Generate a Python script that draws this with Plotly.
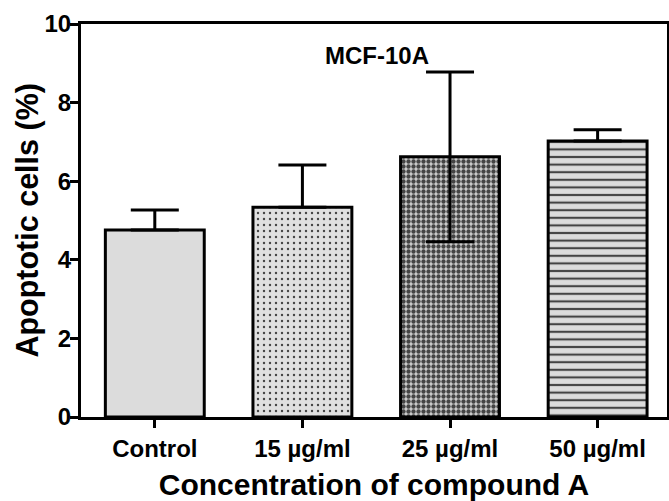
import plotly.graph_objects as go

categories = ["Control", "15 µg/ml", "25 µg/ml", "50 µg/ml"]
values = [4.76, 5.34, 6.62, 7.02]
err_plus = [0.51, 1.07, 2.16, 0.29]
err_minus = [0.0, 0.0, 2.16, 0.0]
title_text = "MCF-10A"
x_title = "Concentration of compound A"
y_title = "Apoptotic cells (%)"
y_ticks = [0, 2, 4, 6, 8, 10]

bg_colors = ["#dcdcdc", "#e0e0e0", "#d0d0d0", "#dcdcdc"]
fg_colors = ["#dcdcdc", "#555555", "#000000", "#444444"]
shapes = ["", ".", ".", "-"]
sizes = [8, 6, 5, 7.6]
solid = [0.2, 0.12, 0.6, 0.28]

FONT = "Liberation Sans, Arial, Helvetica, sans-serif"

fig = go.Figure()
fig.add_trace(go.Bar(
    x=categories, y=values, width=0.67,
    marker=dict(
        color=bg_colors,
        line=dict(color="black", width=3),
        pattern=dict(shape=shapes, fgcolor=fg_colors, fgopacity=1,
                     size=sizes, solidity=solid, fillmode="overlay"),
    ),
    error_y=dict(type="data", symmetric=False, array=err_plus, arrayminus=err_minus,
                 color="black", thickness=3, width=24),
    showlegend=False,
))

fig.update_layout(
    width=669, height=501,
    margin=dict(l=81, r=2, t=24, b=84),
    plot_bgcolor="white", paper_bgcolor="white",
    font=dict(family=FONT, color="black", size=24),
)
fig.add_annotation(text="<b>" + title_text + "</b>", x=0.505, xref="paper", y=0.921, yref="paper",
                   yanchor="middle", xanchor="center",
                   showarrow=False, font=dict(size=24, family=FONT, color="black"))
fig.add_annotation(text="<b>" + y_title + "</b>", x=-0.092, xref="paper", y=0.5, yref="paper",
                   xanchor="center", yanchor="middle", textangle=-90,
                   showarrow=False, font=dict(size=30.5, family=FONT, color="black"))

fig.update_xaxes(
    range=[-0.5, 3.47], showline=True, linecolor="black", linewidth=3, mirror=True,
    ticks="outside", ticklen=8, tickwidth=2.5, tickcolor="black", automargin=False,
    tickfont=dict(size=24, family=FONT, weight="bold", color="black"),
    title=dict(text="<b>" + x_title + "</b>", font=dict(size=30, family=FONT, color="black"), standoff=23),
    showgrid=False, zeroline=False,
)
fig.update_yaxes(
    range=[0, 10], tickvals=y_ticks, showline=True, linecolor="black", linewidth=3, mirror=True,
    ticks="outside", ticklen=8, tickwidth=2.5, tickcolor="black", automargin=False,
    ticklabelstandoff=-6,
    tickfont=dict(size=24, family=FONT, weight="bold", color="black"),
    showgrid=False, zeroline=False,
)

fig.write_html("out.html")
